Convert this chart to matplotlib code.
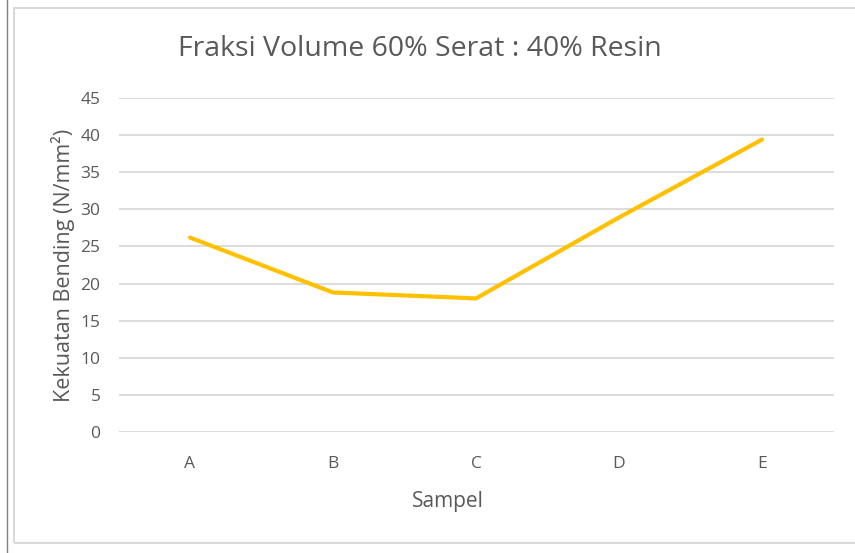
import matplotlib
matplotlib.use("Agg")
import matplotlib.pyplot as plt
from matplotlib.patches import Rectangle
from matplotlib.lines import Line2D

categories = ["A", "B", "C", "D", "E"]
values = [26.2, 18.8, 18.0, 28.9, 39.4]
yticks = [0, 5, 10, 15, 20, 25, 30, 35, 40, 45]

title = "Fraksi Volume 60% Serat : 40% Resin"
xlabel = "Sampel"
ylabel = "Kekuatan Bending (N/mm²)"

W, H = 855, 553
dpi = 100
plt.rcParams['font.family'] = ['Open Sans', 'DejaVu Sans']
fig = plt.figure(figsize=(W / dpi, H / dpi), dpi=dpi)
fig.patch.set_facecolor("white")

# plot area in pixels: x 118.5..833.5, y(0)=432, y(45)=98
left, right = 118.5, 833.5
bottom_px, top_px = 432, 98
ax = fig.add_axes([left / W, 1 - bottom_px / H, (right - left) / W, (bottom_px - top_px) / H])
ax.set_facecolor("none")

x = list(range(len(categories)))
ax.plot(x, values, color="#FFC000", lw=3.0, solid_capstyle="round", solid_joinstyle="miter", zorder=3)

ax.set_xlim(-0.5, len(categories) - 0.5)
ax.set_ylim(0, 45)
ax.set_yticks(yticks)
ax.set_xticks(x)
ax.set_xticklabels(categories)
ax.yaxis.grid(True, color="#D9D9D9", lw=1.3)
ax.set_axisbelow(True)
for s in ax.spines.values():
    s.set_visible(False)
ax.tick_params(axis="both", length=0, labelsize=12.5, colors="#595959")
ax.tick_params(axis="y", pad=13)
ax.tick_params(axis="x", pad=17)

ax.set_xlabel(xlabel, fontsize=15, color="#595959", labelpad=14)
ax.xaxis.label.set_x(0.461)
ax.set_ylabel(ylabel, fontsize=15.5, color="#595959", labelpad=4)

fig.text(420 / W, 1 - 49 / H, title, fontsize=20.5, color="#595959", ha="center", va="center")

# chart frame
fig.patches.append(Rectangle((14 / W, 1 - 543 / H), (W + 10 - 14) / W, (543 - 8) / H,
                             transform=fig.transFigure, fill=False, edgecolor="#D9D9D9", lw=1.5))
fig.lines.append(Line2D([7 / W, 7 / W], [0, 1], transform=fig.transFigure, color="#7F7F7F", lw=1.0))

fig.savefig("out.png", dpi=dpi, facecolor="white")
